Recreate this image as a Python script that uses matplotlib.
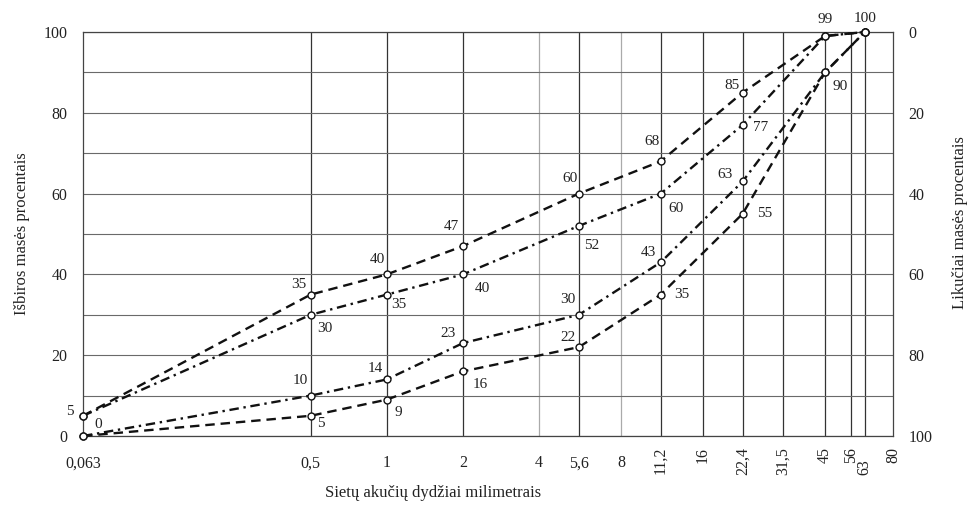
import numpy as np
import matplotlib.pyplot as plt

# sieve sizes (mm) and passing percentages of the four grading curves
sieves = [0.063, 0.5, 1, 2, 5.6, 11.2, 22.4, 45, 63]
upper_dash = [5, 35, 40, 47, 60, 68, 85, 99, 100]
upper_dashdot = [5, 30, 35, 40, 52, 60, 77, 99, 100]
lower_dashdot = [0, 10, 14, 23, 30, 43, 63, 90, 100]
lower_dash = [0, 5, 9, 16, 22, 35, 55, 90, 100]

tick_sizes = [0.063, 0.5, 1, 2, 4, 5.6, 8, 11.2, 16, 22.4, 31.5, 45, 56, 63, 80]
tick_labels = ['0,063', '0,5', '1', '2', '4', '5,6', '8', '11,2', '16',
               '22,4', '31,5', '45', '56', '63', '80']

# label placement (pixel offsets from the point), None = no label
off_upper_dash = [(-13, 4), (-12, 10), (-9, 15), (-12, 20), (-9, 15), (-9, 20), (-11, 7), (0, 17), (0, 13)]
off_upper_dashdot = [None, (14, -14), (12, -10), (19, -14), (13, -20), (15, -15), (18, -3), None, None]
off_lower_dashdot = [(15, 12), (-10, 15), (-11, 11), (-15, 10), (-11, 15), (-12, 10), (-18, 7), (15, -14), None]
off_lower_dash = [None, (10, -8), (12, -13), (17, -13), (-11, 10), (21, 0), (22, 0), None, None]

L4 = np.log10(4)
K = 1.075


def fwd(x):
    u = np.log10(np.maximum(x, 1e-6))
    return np.where(u < L4, u, L4 + (u - L4) * K)


def inv(v):
    return np.where(v < L4, 10 ** v, 10 ** (L4 + (v - L4) / K))


plt.rcParams['font.family'] = ['Liberation Serif', 'DejaVu Serif']
ink = '#222222'

fig = plt.figure(figsize=(9.73, 5.08), dpi=100)
ax = fig.add_axes([83 / 973, 1 - 436 / 508, 810 / 973, 404 / 508])
ax.set_xscale('function', functions=(fwd, inv))
ax.set_xlim(0.063, 80)
ax.set_ylim(0, 100)

# grid
for s in tick_sizes[1:-1]:
    light = s in (4, 8)
    ax.axvline(s, color='#aaaaaa' if light else '#333333', lw=0.9, zorder=1)
ax.set_yticks(range(0, 101, 20))
ax.set_yticks(range(10, 100, 20), minor=True)
ax.grid(axis='y', which='both', color='#6a6a6a', lw=0.8, zorder=1)
for sp in ax.spines.values():
    sp.set_color('#444444')
    sp.set_linewidth(0.9)

curves = [
    (upper_dash, (0, (4, 2.5)), off_upper_dash),
    (upper_dashdot, (0, (4, 2, 1, 2)), off_upper_dashdot),
    (lower_dashdot, (0, (4, 2, 1, 2)), off_lower_dashdot),
    (lower_dash, (0, (4, 2.5)), off_lower_dash),
]
for vals, ls, offs in curves:
    ax.plot(sieves, vals, color='#111111', lw=1.7, linestyle=ls, zorder=3, clip_on=False)
    ax.plot(sieves, vals, 'o', ms=5, mfc='white', mec='#111111', mew=1.0, zorder=4, clip_on=False)
    for s, v, o in zip(sieves, vals, offs):
        if o is None:
            continue
        ax.annotate(str(v), (s, v), xytext=o, textcoords='offset pixels',
                    ha='center', va='center', fontsize=11, color=ink, zorder=5)

# x ticks
ax.set_xticks(tick_sizes)
ax.set_xticklabels(tick_labels)
ax.tick_params(axis='x', length=0, labelsize=11.5, labelcolor=ink)
ax.xaxis.set_minor_locator(plt.NullLocator())
for t, lab in zip(ax.xaxis.get_major_ticks(), tick_labels):
    val = float(lab.replace(',', '.'))
    if val >= 11:
        t.label1.set_rotation(90)
        t.set_pad(17 if lab == '63' else 8)
    else:
        t.set_pad(14)

ax.tick_params(axis='y', length=0, pad=11, labelsize=11.5, labelcolor=ink)
ax.tick_params(axis='y', which='minor', length=0)

ax2 = ax.twinx()
ax2.set_ylim(100, 0)
ax2.set_yticks(range(0, 101, 20))
ax2.tick_params(axis='y', length=0, pad=11, labelsize=11.5, labelcolor=ink)
for sp in ax2.spines.values():
    sp.set_visible(False)

fig.text(433 / 973, 1 - 493 / 508, 'Sietų akučių dydžiai milimetrais',
         ha='center', va='center', fontsize=12, color=ink)
fig.text(22 / 973, 1 - 234 / 508, 'Išbiros masės procentais', rotation=90,
         ha='center', va='center', fontsize=12, color=ink)
fig.text(960 / 973, 1 - 223 / 508, 'Likučiai masės procentais', rotation=90,
         ha='center', va='center', fontsize=12, color=ink)

fig.savefig('out.png', dpi=100)
